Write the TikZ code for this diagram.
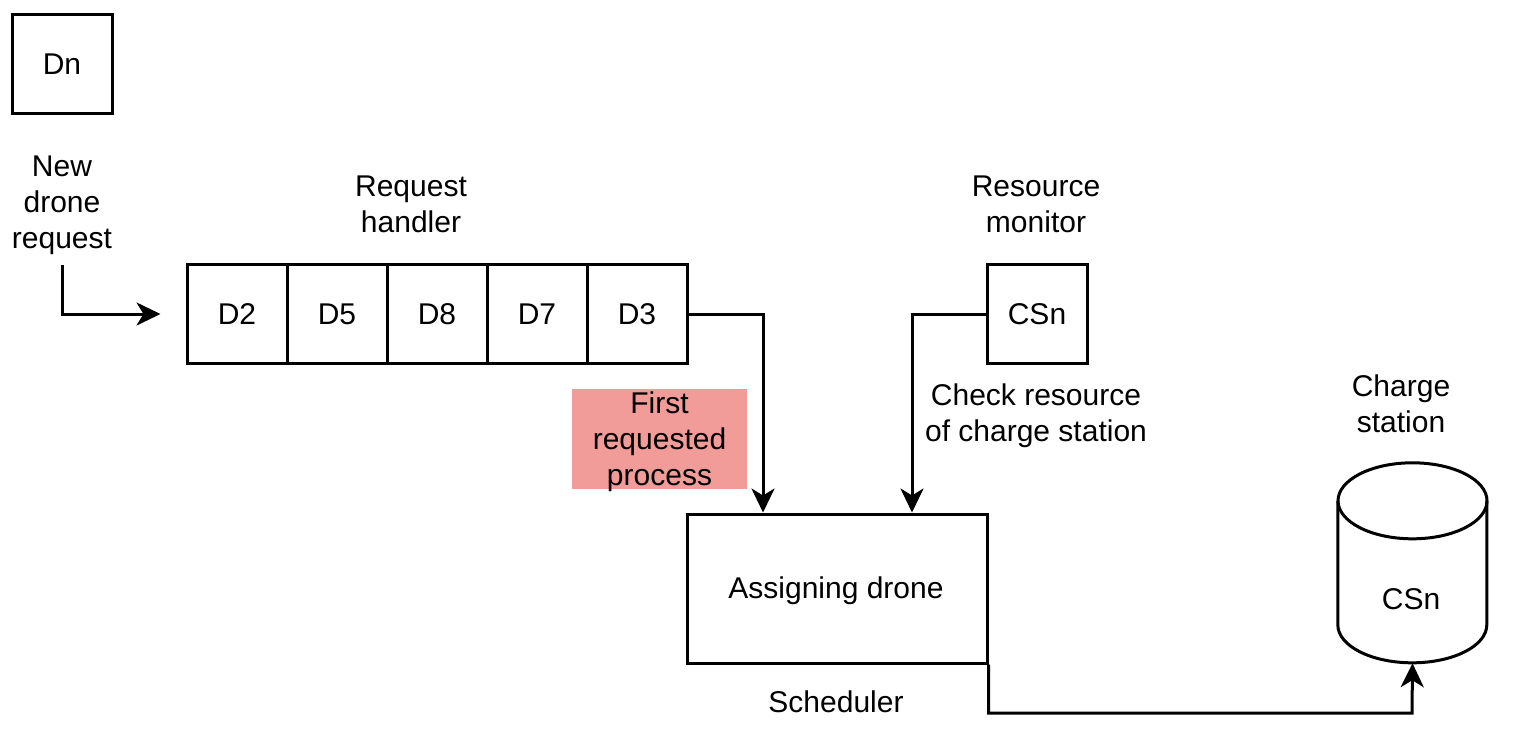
\documentclass[tikz,border=0pt]{standalone}
\usepackage{fontspec}
\setmainfont{Liberation Sans}
\usetikzlibrary{arrows.meta}
\definecolor{pinkfill}{HTML}{F19C99}
\begin{document}
\begin{tikzpicture}[x=1pt,y=-1pt,
 every node/.append style={font=\fontsize{30}{36}\selectfont},
 box/.style={draw, line width=3pt, minimum width=100pt, minimum height=99pt, inner sep=0pt},
 lbl/.style={align=center, inner sep=0pt},
 conn/.style={line width=3pt, -{Stealth[length=24pt,width=23pt,inset=7pt]}}]
\useasboundingbox (0,0) rectangle (1522,732);

\node[box] (dn) at (62,64) {Dn};
\node[lbl] (newreq) at (62,205) {New\\drone\\request};

\node[box] (d2) at (237,314) {D2};
\node[box] (d5) at (337,314) {D5};
\node[box] (d8) at (437,314) {D8};
\node[box] (d7) at (537,314) {D7};
\node[box] (d3) at (637,314) {D3};
\node[lbl] (rh) at (411,204) {Request\\handler};

\node[box] (csn) at (1037,314) {CSn};
\node[lbl] (rm) at (1036,204) {Resource\\monitor};
\node[lbl] (chk) at (1036,416) {Check resource\\of charge station};

\node[fill=pinkfill, minimum width=175pt, minimum height=100pt, inner sep=0pt] (pink) at (659.5,439) {};
\node[lbl] (frp) at (659.5,442) {First\\requested\\process};

\node[box, minimum width=300pt, minimum height=149pt] (assign) at (837,588.5) {};
\node[lbl] (assigntext) at (836,591) {Assigning drone};
\node[lbl] (sched) at (836,702) {Scheduler};

\node[lbl] (cst) at (1401,404) {Charge\\station};
\node[minimum width=149pt, minimum height=200pt, inner sep=0pt] (cyl) at (1412.5,563) {};
\draw[line width=3pt] (cyl.north west) ++(0,38)
  -- ++(0,124)
  arc[start angle=180, end angle=360, x radius=74.5pt, y radius=38pt]
  -- ++(0,-124);
\draw[line width=3pt] ([yshift=-38pt]cyl.north) ellipse[x radius=74.5pt, y radius=38pt];
\node[lbl] (csntext) at (1411,599) {CSn};

\coordinate (reqstart) at (62,265);
\draw[conn] (reqstart) |- ([xshift=-25pt]d2.west);
\draw[conn] (d3.east) -| ([xshift=-74pt]assign.north);
\draw[conn] (csn.west) -| ([xshift=75pt]assign.north);
\coordinate (bend) at (1412,713);
\draw[conn] (assign.south east) |- (bend) -- (cyl.south);
\end{tikzpicture}
\end{document}
